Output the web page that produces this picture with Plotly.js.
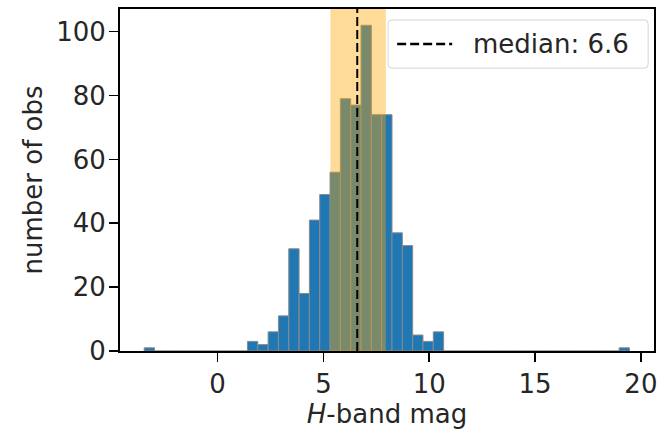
<!DOCTYPE html>
<html>
<head>
<meta charset="utf-8">
<script src="https://cdn.plot.ly/plotly-3.0.1.min.js"></script>
<style>html,body{margin:0;padding:0;background:#fff;}#chart{width:659px;height:431px;}</style>
</head>
<body>
<div id="chart"></div>
<script>
// Histogram of H-band magnitudes (47 equal-width bins)
const binStart = -3.466;
const binWidth = 0.4878;
const counts = [1,0,0,0,0,0,0,0,0,0,
                3,2,6,11,32,18,41,49,56,79,
                77,102,74,74,37,33,5,3,6,0,
                0,0,0,0,0,0,0,0,0,0,
                0,0,0,0,0,0,1];
const medianValue = 6.6;
const spanLow = 5.33;
const spanHigh = 7.95;
const xTicks = [0, 5, 10, 15, 20];
const yTicks = [0, 20, 40, 60, 80, 100];
const legendLabel = 'median: ' + medianValue.toFixed(1);

const centers = counts.map((c, i) => binStart + (i + 0.5) * binWidth);
const FONT = 'DejaVu Sans';
const TXT = '#262626';
const DASH = '9px,4px';
const FS = 26;

const traces = [
  {
    type: 'bar', x: centers, y: counts, width: binWidth,
    marker: {color: '#1f77b4', line: {color: '#8a8a8a', width: 1}},
    showlegend: false, hoverinfo: 'x+y'
  }
];

// legend box geometry (paper units)
const lx0 = 0.502, lx1 = 0.989, ly0 = 0.827, ly1 = 0.968;
const rx = 4 / 534, ry = 4 / 342;
const boxPath = `M${lx0 + rx},${ly0} L${lx1 - rx},${ly0} Q${lx1},${ly0} ${lx1},${ly0 + ry} ` +
  `L${lx1},${ly1 - ry} Q${lx1},${ly1} ${lx1 - rx},${ly1} L${lx0 + rx},${ly1} Q${lx0},${ly1} ${lx0},${ly1 - ry} ` +
  `L${lx0},${ly0 + ry} Q${lx0},${ly0} ${lx0 + rx},${ly0} Z`;
const ly = (ly0 + ly1) / 2;

const layout = {
  width: 659, height: 431,
  margin: {l: 120, r: 5, t: 9, b: 80},
  paper_bgcolor: 'white', plot_bgcolor: 'white',
  font: {family: FONT, size: FS, color: TXT},
  bargap: 0,
  showlegend: false,
  xaxis: {
    range: [-4.61, 20.62], tickvals: xTicks, ticks: 'outside', ticklen: 9, tickwidth: 1.6,
    tickcolor: 'black', showline: true, mirror: true, linewidth: 2, linecolor: 'black',
    showgrid: false, zeroline: false, tickfont: {family: FONT, size: FS, color: TXT},
    title: {text: '<i>H</i>-band mag', font: {family: FONT, size: FS, color: TXT}, standoff: 2}
  },
  yaxis: {
    range: [0, 107.1], tickvals: yTicks, ticks: 'outside', ticklen: 9, tickwidth: 1.6,
    tickcolor: 'black', showline: true, mirror: true, linewidth: 2, linecolor: 'black',
    showgrid: false, zeroline: false, tickfont: {family: FONT, size: FS, color: TXT},
    ticklabelstandoff: -2,
    title: {text: 'number of obs', font: {family: FONT, size: FS, color: TXT}, standoff: 6}
  },
  shapes: [
    {type: 'rect', xref: 'x', yref: 'paper', x0: spanLow, x1: spanHigh, y0: 0, y1: 1,
     fillcolor: 'rgba(255,165,0,0.4)', line: {width: 0}, layer: 'above'},
    {type: 'line', xref: 'x', yref: 'paper', x0: medianValue, x1: medianValue, y0: 0, y1: 1,
     line: {color: 'black', dash: DASH, width: 2}, layer: 'above'},
    {type: 'path', xref: 'paper', yref: 'paper', path: boxPath,
     fillcolor: 'rgba(255,255,255,0.8)', line: {color: '#d6d6d6', width: 1}, layer: 'above'},
    {type: 'line', xref: 'paper', yref: 'paper', x0: 0.519, x1: 0.622, y0: ly, y1: ly,
     line: {color: 'black', dash: DASH, width: 2.4}, layer: 'above'}
  ],
  annotations: [
    {xref: 'paper', yref: 'paper', x: 0.657, y: ly, xanchor: 'left', yanchor: 'middle',
     text: legendLabel, showarrow: false, font: {family: FONT, size: FS, color: TXT}}
  ]
};

Plotly.newPlot('chart', traces, layout, {displayModeBar: false, staticPlot: true});
</script>
</body>
</html>
